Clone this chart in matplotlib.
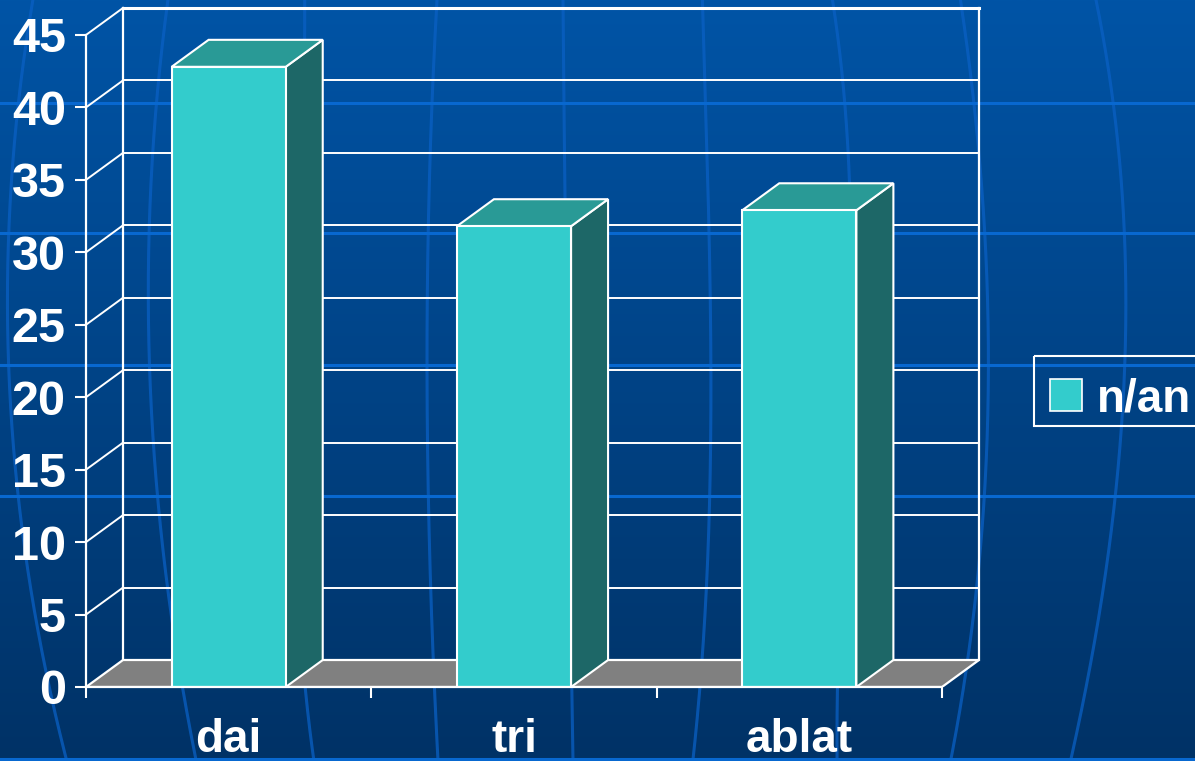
import matplotlib.pyplot as plt
import numpy as np
from matplotlib.patches import Polygon, Rectangle
from matplotlib.transforms import Affine2D

plt.rcParams['font.family'] = ['Liberation Sans', 'DejaVu Sans']

# data
categories = ['dai', 'tri', 'ablat']
values = [42.8, 31.8, 32.9]
series_name = 'n/an'
y_ticks = list(range(0, 50, 5))

W, H = 1195, 761
FRONT = '#33CCCC'
TOP = '#299A96'
SIDE = '#1D6767'
FLOOR = '#808080'

fig = plt.figure(figsize=(W / 100, H / 100), dpi=100)
# pixel coords, origin top-left
pix = Affine2D().scale(1 / W, -1 / H).translate(0, 1) + fig.transFigure

# ---- background: blue gradient + globe lines ----
bg = fig.add_axes([0, 0, 1, 1])
top_c = np.array([0, 84, 166]) / 255
bot_c = np.array([0, 50, 102]) / 255
t = np.linspace(0, 1, 256)[:, None, None]
grad = top_c * (1 - t) + bot_c * t
bg.imshow(grad, aspect='auto', extent=[0, W, H, 0])

meridians = [
    [(33, 0), (10, 200), (6, 320), (13, 400), (25, 560), (67, 761)],
    [(168, 0), (150, 200), (150, 380), (165, 560), (182, 693), (197, 761)],
    [(305, 0), (298, 250), (298, 450), (302, 690), (316, 761)],
    [(437, 0), (427, 357), (435, 700), (438, 761)],
    [(563, 0), (565, 200), (572, 700), (573, 761)],
    [(702, 0), (707, 120), (710, 357), (700, 700), (692, 761)],
    [(833, 0), (845, 120), (850, 380), (836, 690), (838, 761)],
    [(960, 0), (977, 120), (986, 340), (984, 550), (961, 680), (952, 761)],
    [(1096, 0), (1113, 100), (1124, 233), (1125, 340), (1122, 430),
     (1108, 560), (1090, 660), (1071, 761)],
]
yy = np.linspace(0, H, 300)
for pts in meridians:
    px_, py_ = np.array(pts).T
    coef = np.polyfit(py_, px_, min(3, len(pts) - 1))
    bg.plot(np.polyval(coef, yy), yy, color='#0A60C4', lw=2.2, alpha=0.75)
for y in [103, 233, 365, 496, 759]:
    bg.plot([0, W], [y, y], color='#0868D0', lw=2.2)
bg.set_xlim(0, W)
bg.set_ylim(H, 0)
bg.axis('off')

# ---- 3d-looking column chart ----
cat_px, val_px = 285.33, 14.49
dx, dy = 37 / cat_px, 27 / val_px
x = np.arange(len(categories))
x0, x1 = -0.5, len(categories) - 0.5

ax = fig.add_axes([86 / W, 74 / H, (3 + dx) * cat_px / W, (45 + dy) * val_px / H])
ax.set_facecolor('none')
ax.set_xlim(x0, x1 + dx)
ax.set_ylim(0, 45 + dy)

# back wall gridlines and left wall
for v in y_ticks[1:]:
    ax.plot([x0 + dx, x1 + dx], [v + dy, v + dy], color='white',
            lw=2.2 if v == y_ticks[-1] else 1.4, zorder=1, clip_on=False)
    ax.plot([x0, x0 + dx], [v, v + dy], color='white', lw=1.4, zorder=1, clip_on=False)
for xe in (x0 + dx, x1 + dx):
    ax.plot([xe, xe], [dy, y_ticks[-1] + dy], color='white', lw=1.6, zorder=1, clip_on=False)

# floor
ax.add_patch(Polygon([(x0, 0), (x1, 0), (x1 + dx, dy), (x0 + dx, dy)],
                     closed=True, fc=FLOOR, ec='white', lw=1.6, zorder=2))

# bars: side and top faces, then the front faces
w = 0.4
for i, v in enumerate(values):
    l, r = x[i] - w / 2, x[i] + w / 2
    ax.add_patch(Polygon([(r, 0), (r, v), (r + dx, v + dy), (r + dx, dy)],
                         closed=True, fc=SIDE, ec='white', lw=1.5, zorder=3))
    ax.add_patch(Polygon([(l, v), (r, v), (r + dx, v + dy), (l + dx, v + dy)],
                         closed=True, fc=TOP, ec='white', lw=1.5, zorder=3))
ax.bar(x, values, width=w, color=FRONT, edgecolor='white', linewidth=1.5, zorder=4)

# axes
for s in ('top', 'right'):
    ax.spines[s].set_visible(False)
ax.spines['left'].set_bounds(0, y_ticks[-1])
ax.spines['bottom'].set_bounds(x0, x1)
for s in ('left', 'bottom'):
    ax.spines[s].set_color('white')
    ax.spines[s].set_linewidth(1.6)
    ax.spines[s].set_zorder(5)

ax.set_yticks(y_ticks)
ax.set_yticklabels([str(v) for v in y_ticks], fontweight='bold')
ax.tick_params(axis='y', direction='out', length=8, width=1.5, color='white',
               labelcolor='white', labelsize=35, pad=6.5)

ax.set_xticks(np.arange(x0, x1 + 0.01, 1.0))
ax.set_xticklabels([])
ax.set_xticks(x, minor=True)
ax.set_xticklabels(categories, minor=True, fontweight='bold')
ax.tick_params(axis='x', which='major', direction='out', length=8, width=1.5, color='white')
ax.tick_params(axis='x', which='minor', length=0, labelcolor='white', labelsize=33, pad=22)

# legend box
fig.patches.append(Rectangle((1034, 356), 250, 70, transform=pix, fill=False,
                             ec='white', lw=1.5))
fig.patches.append(Rectangle((1050, 379), 32, 32, transform=pix, fc=FRONT,
                             ec='white', lw=1.2))
fig.text(1097, 412, series_name, transform=pix, ha='left', va='baseline',
         fontsize=33, fontweight='bold', color='white')

fig.savefig('out.png', dpi=100)
